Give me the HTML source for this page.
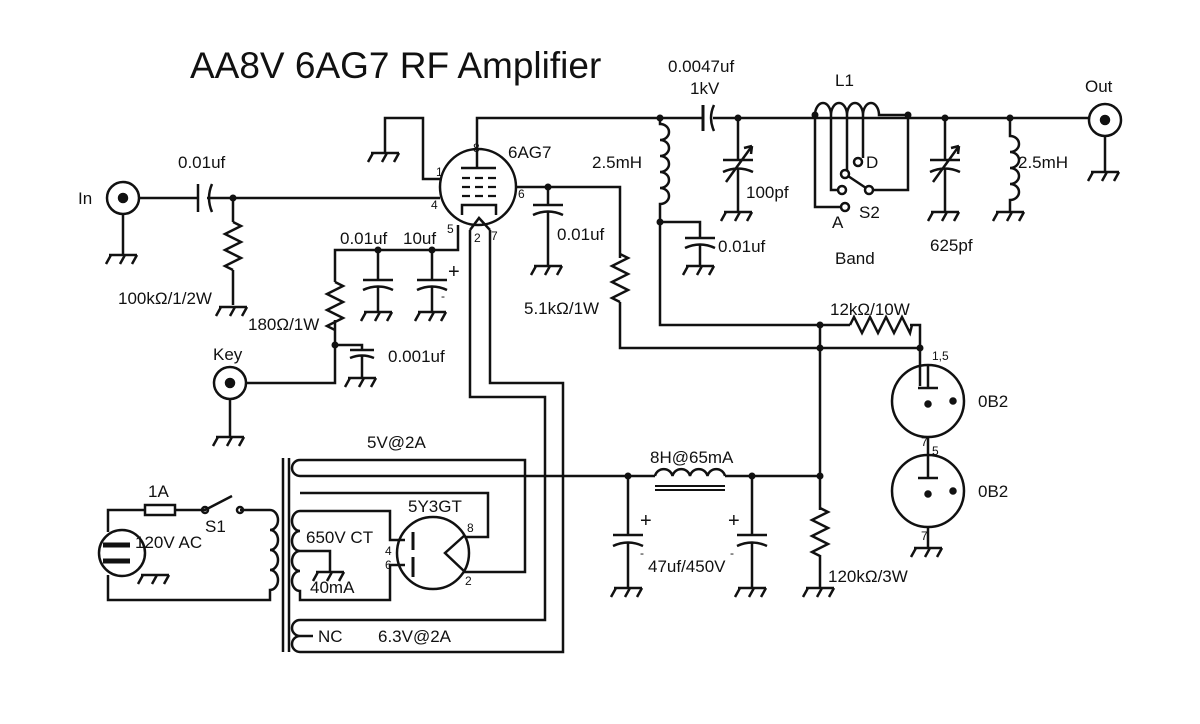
<!DOCTYPE html>
<html><head><meta charset="utf-8"><style>
html,body{margin:0;padding:0;background:#fff}
svg{display:block}
text{font-family:"Liberation Sans",sans-serif;fill:#111}
</style></head><body>
<svg width="1200" height="724" viewBox="0 0 1200 724" xmlns="http://www.w3.org/2000/svg">
<defs>
<g id="gnd"><path d="M-14,0 H14 M-12,0 l-5,9 M2,0 l-5,9 M14,0 l-5,9" stroke="#111" stroke-width="2.5" fill="none"/></g>
<g id="res"><path d="M0,0 l8,4 l-16,8 l16,8 l-16,8 l16,8 l-16,8 l8,4" stroke="#111" stroke-width="2.5" fill="none"/></g>
<g id="dot"><circle r="3.5" fill="#111"/></g>
</defs>
<text x="190" y="78" font-size="37">AA8V 6AG7 RF Amplifier</text>

<g stroke="#111" stroke-width="2.5" fill="none">
<circle cx="123" cy="198" r="16"/><circle cx="123" cy="198" r="4" fill="#111"/>
<path d="M123,214 V255"/>
<path d="M139,198 H198 M198,184 V212 M212,184 Q206,198 212,212 M207,198 H440"/>
<path d="M233,198 V222 M233,270 V305"/>
<circle cx="478" cy="187" r="38"/>
<path d="M477,168 V118 H1090"/>
<path d="M461,168 H496"/>
<path d="M462,178 h8 m5,0 h8 m5,0 h8 M462,187 h8 m5,0 h8 m5,0 h8 M462,196 h8 m5,0 h8 m5,0 h8" stroke-width="2.2"/>
<path d="M462,215 V205 H496 V215"/>
<path d="M470,230 L479,218 L490,230"/>
<path d="M385,153 V118 H423 V179 H442"/>
<path d="M515,187 H620 V258 M620,302 V348 H920"/>
<path d="M548,187 V205 M533,205 H563 M533,215 Q548,208 563,215 M548,212 V266"/>
<path d="M458,225 V250 H335 V282 M335,320 V383 H246"/>
<path d="M378,250 V280 M363,280 H393 M363,290 Q378,283 393,290 M378,287 V312"/>
<path d="M432,250 V280 M417,280 H447 M417,290 Q432,283 447,290 M432,287 V312"/>
<path d="M335,345 H362 V350 M350,350 H374 M350,358 Q362,353 374,358 M362,356 V378"/>
<circle cx="230" cy="383" r="16"/><circle cx="230" cy="383" r="4" fill="#111"/>
<path d="M230,399 V437"/>
<path d="M470,230 V397 H545 V620 H300"/>
<path d="M490,230 V383 H563 V652 H300"/>
<path d="M660,118 V124 a9,8 0 1 1 0,16 a9,8 0 1 1 0,16 a9,8 0 1 1 0,16 a9,8 0 1 1 0,16 a9,8 0 1 1 0,16 V325 H850"/>
<path d="M910,325 H920 V386"/>
<path d="M660,222 H700 V238 M685,238 H715 M685,248 Q700,241 715,248 M700,245 V266"/>
<rect x="704" y="110" width="9" height="16" fill="#fff" stroke="none"/>
<path d="M703,105 V131" stroke-width="3"/><path d="M714,105 Q708,118 714,131"/>
<path d="M738,118 V160 M723,160 H753 M723,172 Q738,165 753,172 M738,169 V212 M726,182 L752,146 M752,146 l-8,2 m8,-2 l-1,8"/>
<path d="M815,115 a8,12 0 0 1 16,0 a8,12 0 0 1 16,0 a8,12 0 0 1 16,0 a8,12 0 0 1 16,0 H908 V190 H873"/>
<path d="M815,115 V207 H841 M831,115 V190 H839 M847,115 V171 M863,115 V158"/>
<circle cx="845" cy="207" r="4" fill="#fff"/><circle cx="842" cy="190" r="4" fill="#fff"/>
<circle cx="845" cy="174" r="4" fill="#fff"/><circle cx="858" cy="162" r="4" fill="#fff"/>
<circle cx="869" cy="190" r="4" fill="#fff"/>
<path d="M848,176 L866,188"/>
<path d="M945,118 V160 M930,160 H960 M930,172 Q945,165 960,172 M945,169 V212 M933,182 L959,146 M959,146 l-8,2 m8,-2 l-1,8"/>
<path d="M1010,118 V136 a9,8 0 1 1 0,16 a9,8 0 1 1 0,16 a9,8 0 1 1 0,16 a9,8 0 1 1 0,16 V212"/>
<circle cx="1105" cy="120" r="16"/><circle cx="1105" cy="120" r="4" fill="#111"/>
<path d="M1105,136 V172"/>
<path d="M820,325 V510 M820,555 V588"/>
<circle cx="928" cy="401" r="36"/><circle cx="928" cy="491" r="36"/>
<path d="M928,365 V388 M918,388 H938 M928,437 V455 M928,455 V478 M918,478 H938 M928,527 V548"/>
<circle cx="928" cy="404" r="2.5" fill="#111"/><circle cx="953" cy="401" r="2.5" fill="#111"/>
<circle cx="928" cy="494" r="2.5" fill="#111"/><circle cx="953" cy="491" r="2.5" fill="#111"/>
<path d="M300,476 H655 M725,476 H820"/>
<path d="M655,476 a9,9 0 0 1 17.5,0 a9,9 0 0 1 17.5,0 a9,9 0 0 1 17.5,0 a9,9 0 0 1 17.5,0"/>
<path d="M655,486 H725 M655,490 H725" stroke-width="2"/>
<path d="M628,476 V535 M613,535 H643 M613,546 Q628,539 643,546 M628,543 V588"/>
<path d="M752,476 V535 M737,535 H767 M737,546 Q752,539 767,546 M752,543 V588"/>
<path d="M283,458 V652 M289,458 V652"/>
<path d="M300,460 a8,8 0 0 0 0,16 M300,460 H525 V572 H463"/>
<path d="M300,493 H488 V537 H465"/>
<path d="M300,511 H390 V540 H405 M300,511 a8,10 0 0 0 0,20 a8,10 0 0 0 0,20 a8,10 0 0 0 0,20 a8,10 0 0 0 0,20 V600 H390 V565 H405"/>
<path d="M300,551 H330 V572"/>
<path d="M300,620 a8,8 0 0 0 0,16 a8,8 0 0 0 0,16 M300,636 H313"/>
<circle cx="433" cy="553" r="36"/>
<path d="M413,532 V550 M413,557 V577" stroke-width="3"/>
<path d="M465,535 L445,553 L465,572"/>
<path d="M270,510 a8,10 0 0 1 0,20 a8,10 0 0 1 0,20 a8,10 0 0 1 0,20 a8,10 0 0 1 0,20 V600 H108 V575 M108,532 V510 H145 M175,510 H205 L232,496 M240,510 H270"/>
<rect x="145" y="505" width="30" height="10"/>
<circle cx="205" cy="510" r="3"/><circle cx="240" cy="510" r="3"/>
<circle cx="122" cy="553" r="23"/>
<path d="M103,545 H130 M103,561 H130" stroke-width="5"/>
<path d="M850,325 l4,-8 l8,16 l8,-16 l8,16 l8,-16 l8,16 l8,-16 l8,16 l2,-8"/>
</g>
<use href="#res" x="233" y="222"/>
<use href="#res" x="335" y="282"/>
<use href="#res" x="620" y="254"/>
<use href="#res" x="820" y="508"/>
<use href="#dot" x="233" y="198"/><use href="#dot" x="548" y="187"/><use href="#dot" x="660" y="118"/>
<use href="#dot" x="738" y="118"/><use href="#dot" x="815" y="115"/><use href="#dot" x="908" y="115"/>
<use href="#dot" x="945" y="118"/><use href="#dot" x="1010" y="118"/><use href="#dot" x="660" y="222"/>
<use href="#dot" x="378" y="250"/><use href="#dot" x="432" y="250"/><use href="#dot" x="335" y="345"/>
<use href="#dot" x="820" y="325"/><use href="#dot" x="820" y="348"/><use href="#dot" x="920" y="348"/>
<use href="#dot" x="628" y="476"/><use href="#dot" x="752" y="476"/><use href="#dot" x="820" y="476"/>
<use href="#gnd" x="123" y="255"/><use href="#gnd" x="233" y="307"/><use href="#gnd" x="385" y="153"/>
<use href="#gnd" x="548" y="266"/><use href="#gnd" x="378" y="312"/><use href="#gnd" x="432" y="312"/>
<use href="#gnd" x="362" y="378"/><use href="#gnd" x="230" y="437"/><use href="#gnd" x="700" y="266"/>
<use href="#gnd" x="738" y="212"/><use href="#gnd" x="945" y="212"/><use href="#gnd" x="1010" y="212"/>
<use href="#gnd" x="1105" y="172"/><use href="#gnd" x="628" y="588"/><use href="#gnd" x="752" y="588"/>
<use href="#gnd" x="820" y="588"/><use href="#gnd" x="330" y="572"/><use href="#gnd" x="155" y="575"/>
<use href="#gnd" x="928" y="548"/>
<g font-size="17">
<text x="178" y="168">0.01uf</text>
<text x="78" y="204">In</text>
<text x="118" y="304">100kΩ/1/2W</text>
<text x="340" y="244">0.01uf</text>
<text x="403" y="244">10uf</text>
<text x="248" y="330">180Ω/1W</text>
<text x="213" y="360">Key</text>
<text x="388" y="362">0.001uf</text>
<text x="508" y="158">6AG7</text>
<text x="557" y="240">0.01uf</text>
<text x="524" y="314">5.1kΩ/1W</text>
<text x="592" y="168">2.5mH</text>
<text x="668" y="72">0.0047uf</text>
<text x="690" y="94">1kV</text>
<text x="718" y="252">0.01uf</text>
<text x="746" y="198">100pf</text>
<text x="835" y="86">L1</text>
<text x="866" y="168">D</text>
<text x="859" y="218">S2</text>
<text x="832" y="228">A</text>
<text x="835" y="264">Band</text>
<text x="930" y="251">625pf</text>
<text x="1018" y="168">2.5mH</text>
<text x="1085" y="92">Out</text>
<text x="830" y="315">12kΩ/10W</text>
<text x="978" y="407">0B2</text>
<text x="978" y="497">0B2</text>
<text x="650" y="463">8H@65mA</text>
<text x="648" y="572">47uf/450V</text>
<text x="828" y="582">120kΩ/3W</text>
<text x="367" y="448">5V@2A</text>
<text x="408" y="512">5Y3GT</text>
<text x="306" y="543">650V CT</text>
<text x="310" y="593">40mA</text>
<text x="318" y="642">NC</text>
<text x="378" y="642">6.3V@2A</text>
<text x="148" y="497">1A</text>
<text x="205" y="532">S1</text>
<text x="135" y="548">120V AC</text>
<text x="448" y="278" font-size="20">+</text>
<text x="640" y="527" font-size="20">+</text>
<text x="728" y="527" font-size="20">+</text>
</g>
<g font-size="12">
<text x="473" y="152">8</text><text x="436" y="176">1</text><text x="431" y="209">4</text>
<text x="518" y="198">6</text><text x="447" y="233">5</text><text x="474" y="242">2</text><text x="491" y="240">7</text>
<text x="932" y="360">1,5</text><text x="921" y="446">7</text><text x="932" y="455">5</text><text x="921" y="540">7</text>
<text x="385" y="555">4</text><text x="385" y="569">6</text><text x="467" y="532">8</text><text x="465" y="585">2</text>
<text x="441" y="300">-</text><text x="640" y="557">-</text><text x="730" y="557">-</text>
</g>
</svg>
</body></html>
